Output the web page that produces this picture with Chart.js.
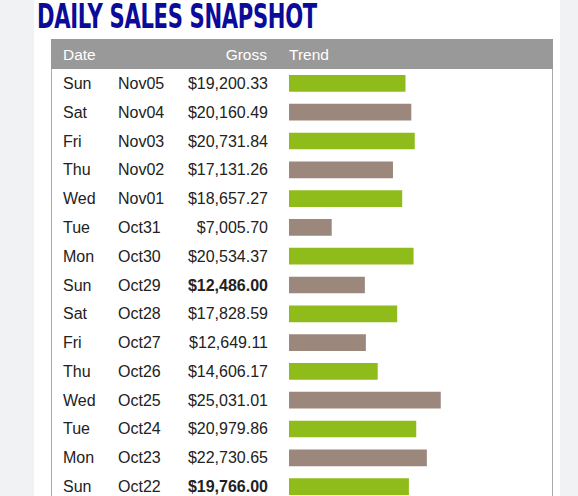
<!DOCTYPE html>
<html><head><meta charset="utf-8">
<script src="https://cdn.jsdelivr.net/npm/chart.js@4"></script>
<style>
body{margin:0;width:578px;height:496px;overflow:hidden;background:#f1f2f4;font-family:"Liberation Sans",Arial,sans-serif;}
#panel{position:absolute;left:34px;top:0;width:526px;height:496px;background:#fff;}
#title{position:absolute;left:37px;top:-3px;font-family:"DejaVu Sans",sans-serif;font-weight:bold;font-size:32px;color:#0b0b99;transform:scale(0.66,1.05);transform-origin:left top;letter-spacing:-0.5px;}
#tbl{position:absolute;left:51px;top:39px;width:500px;height:470px;border:1px solid #aaa;border-top:none;}
#hdr{position:absolute;left:51px;top:39px;width:502px;height:30px;background:#999;color:#fff;font-size:15.5px;}
.c{position:absolute;white-space:nowrap;}
.row{position:absolute;left:0;width:578px;height:28.79px;font-size:16px;color:#222;line-height:28.79px;}
#cv{position:absolute;left:289px;top:69px;width:242px;height:432px;}
</style></head><body>
<div id="panel"></div>
<div id="title">DAILY SALES SNAPSHOT</div>
<div id="tbl"></div>
<div id="hdr">
<span class="c" style="left:12px;top:7px">Date</span>
<span class="c" style="right:286px;top:7px">Gross</span>
<span class="c" style="left:238px;top:7px">Trend</span>
</div>
<div id="rows"></div>
<div id="cv"><canvas id="c"></canvas></div>
<script>
const days=["Sun","Sat","Fri","Thu","Wed","Tue","Mon","Sun","Sat","Fri","Thu","Wed","Tue","Mon","Sun"];
const dates=["Nov05","Nov04","Nov03","Nov02","Nov01","Oct31","Oct30","Oct29","Oct28","Oct27","Oct26","Oct25","Oct24","Oct23","Oct22"];
const gross=[19200.33,20160.49,20731.84,17131.26,18657.27,7005.70,20534.37,12486.00,17828.59,12649.11,14606.17,25031.01,20979.86,22730.65,19766.00];
const boldRows=["Oct29","Oct22"];
const green="#8fbc1a",brown="#9c877c";
const rows=document.getElementById('rows');
days.forEach((d,i)=>{
  const r=document.createElement('div');r.className='row';r.style.top=(70+i*28.79)+'px';
  const b=boldRows.includes(dates[i])?'font-weight:bold;':'';
  r.innerHTML=`<span class="c" style="left:63px">${d}</span><span class="c" style="left:118px">${dates[i]}</span><span class="c" style="right:310px;${b}">$${gross[i].toLocaleString('en-US',{minimumFractionDigits:2})}</span>`;
  rows.appendChild(r);
});
new Chart(document.getElementById('c'),{type:'bar',
 data:{labels:dates,datasets:[{data:gross,backgroundColor:gross.map((v,i)=>i%2?brown:green),barThickness:16}]},
 options:{indexAxis:'y',responsive:true,maintainAspectRatio:false,animation:false,
  layout:{padding:0},plugins:{legend:{display:false},tooltip:{enabled:false}},
  scales:{x:{display:false,min:0,max:40000},y:{display:false}}}});
</script></body></html>
